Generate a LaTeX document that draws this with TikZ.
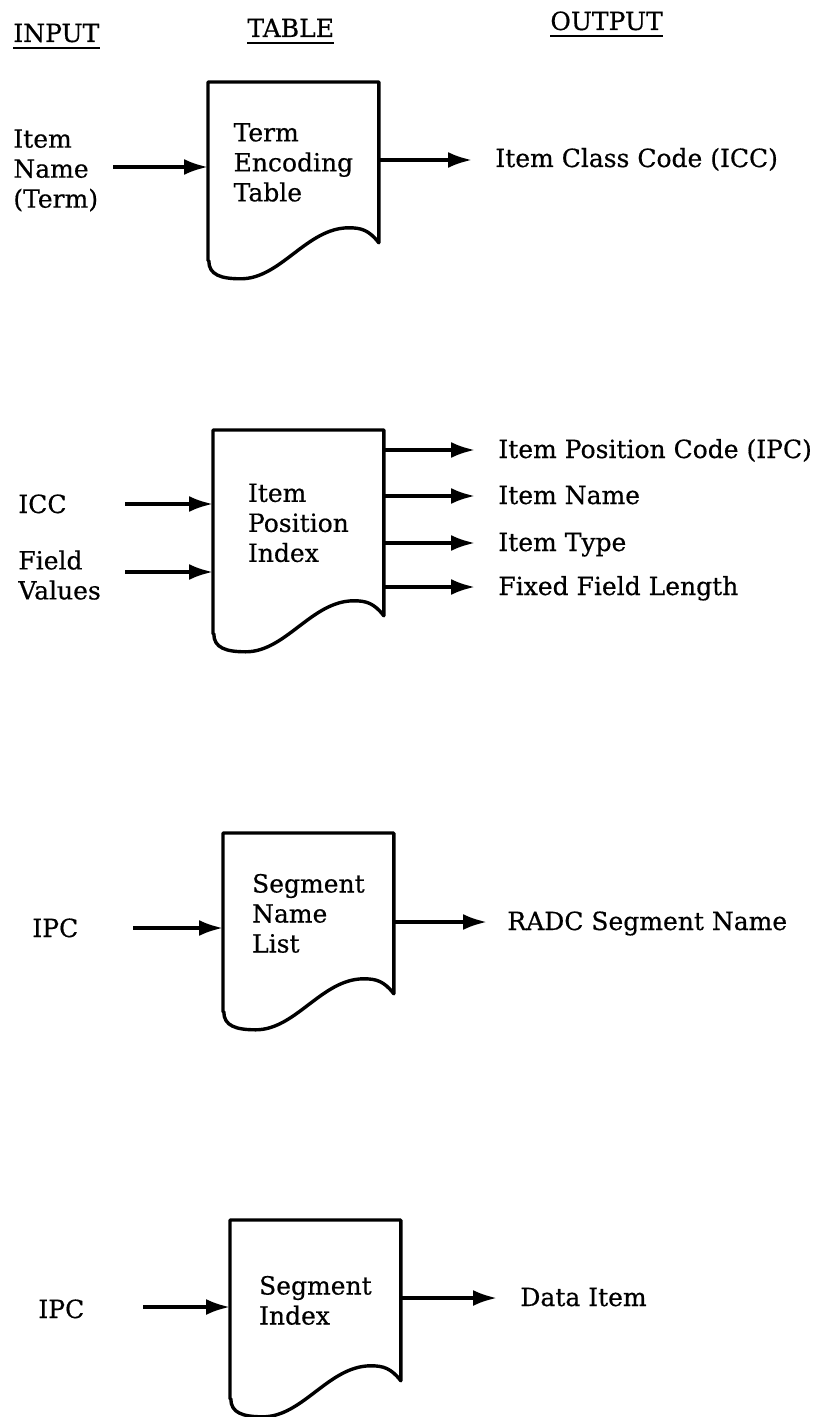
\documentclass[tikz,border=0pt]{standalone}
\usepackage{fontspec}
\setmainfont{DejaVu Serif}[UprightFeatures={FakeBold=0.5}]
\usetikzlibrary{arrows.meta}
\tikzset{
  txt/.style={inner sep=0pt,anchor=base west,align=left,font=\fontsize{12.5}{15}\selectfont},
  head/.style={txt},
  headline/.style={line width=1.4pt},
  sheet/.style={rectangle,inner sep=0pt,align=left,minimum width=85pt,minimum height=80pt,anchor=north west,font=\fontsize{12.5}{15}\selectfont},
  sheetline/.style={line width=1.7pt,line join=round},
  flowarrow/.style={-{Latex[length=12pt,width=8pt]},line width=1.8pt}
}

\begin{document}
\begin{tikzpicture}[x=0.5pt,y=-0.5pt]
  \useasboundingbox (0,0) rectangle (829,1417);

  % column heads
  \node[head] (hin) at (13,42) {INPUT};
  \node[head] (htab) at (247,37) {TABLE};
  \node[head] (hout) at (550,30) {OUTPUT};
  \foreach \h in {hin,htab,hout}
    \draw[headline] ([yshift=-3pt]\h.base west) -- ([yshift=-3pt]\h.base east);

  % tables
  \node[sheet] (tab1) at (208,82) {Term\\Encoding\\Table};
  \node[sheet,minimum height=92.5pt] (tab2) at (213,430) {Item\\Position\\Index};
  \node[sheet] (tab3) at (223,833) {Segment\\Name\\List};
  \node[sheet] (tab4) at (230,1220) {Segment\\Index};
  \foreach \t in {tab1,tab2,tab3,tab4}
    \draw[sheetline] (\t.south west) ++(0,18) -- (\t.north west) -- (\t.north east) -- (\t.south east)
      .. controls +(-10,-13) and +(12,0) .. ++(-30,-15)
      .. controls +(-42,0) and +(40,0) .. ++(-108,51)
      .. controls +(-20,0) and +(0,14) .. ++(-32,-18) -- cycle;

  % inputs
  \node[txt,anchor=north west] (in1) at (13,129) {Item\\Name\\(Term)};
  \node[txt] (in2a) at (18,513) {ICC};
  \node[txt,anchor=north west] (in2b) at (18,550) {Field\\Values};
  \node[txt] (in3) at (32,937) {IPC};
  \node[txt] (in4) at (38,1318) {IPC};
  \coordinate (s1) at (113,167);
  \coordinate (s2a) at (125,504);
  \coordinate (s2b) at (125,572);
  \coordinate (s3) at (133,928);
  \coordinate (s4) at (143,1307);
  \draw[flowarrow] (s1) -- (s1 -| tab1.west);
  \draw[flowarrow] (s2a) -- (s2a -| tab2.west);
  \draw[flowarrow] (s2b) -- (s2b -| tab2.west);
  \draw[flowarrow] (s3) -- (s3 -| tab3.west);
  \draw[flowarrow] (s4) -- (s4 -| tab4.west);

  % outputs
  \coordinate (e1) at (472,160);
  \draw[flowarrow] (e1 -| tab1.east) -- (e1);
  \node[txt] (out1) at (495,167) {Item Class Code (ICC)};
  \foreach \y/\n/\s in {450/ipc/Item Position Code (IPC),496/name/Item Name,543/type/Item Type,587/len/Fixed Field Length} {
    \coordinate (e\n) at (475,\y);
    \draw[flowarrow] (e\n -| tab2.east) -- (e\n);
    \node[txt] (out\n) at (498,\y+8) {\s};
  }
  \coordinate (e3) at (487,922);
  \draw[flowarrow] (e3 -| tab3.east) -- (e3);
  \node[txt] (out3) at (507,930) {RADC Segment Name};
  \coordinate (e4) at (497,1298);
  \draw[flowarrow] (e4 -| tab4.east) -- (e4);
  \node[txt] (out4) at (520,1306) {Data Item};
\end{tikzpicture}
\end{document}
